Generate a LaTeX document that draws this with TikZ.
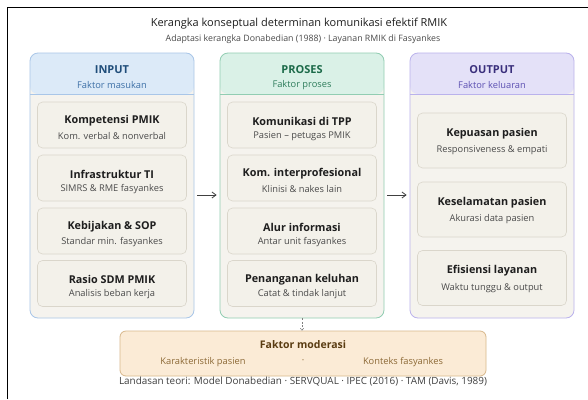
\documentclass[tikz,border=0pt]{standalone}
\usepackage{fontspec}
\setmainfont{Open Sans}
\usetikzlibrary{arrows.meta}
\definecolor{cream}{HTML}{F5F3EE}
\definecolor{innerfill}{HTML}{F3F1EA}
\definecolor{innerdraw}{HTML}{DAD6CB}
\definecolor{bluehdr}{HTML}{DCEAF8}
\definecolor{bluedraw}{HTML}{A9C6E8}
\definecolor{bluetitle}{HTML}{1F4D7A}
\definecolor{bluesub}{HTML}{3C6FA6}
\definecolor{greenhdr}{HTML}{DAF1E7}
\definecolor{greendraw}{HTML}{91CDB2}
\definecolor{greentitle}{HTML}{1C6A49}
\definecolor{greensub}{HTML}{2F7D5C}
\definecolor{purphdr}{HTML}{E4E1F8}
\definecolor{purpdraw}{HTML}{BAB2EC}
\definecolor{purptitle}{HTML}{3A2F7C}
\definecolor{purpsub}{HTML}{5C50B2}
\definecolor{modfill}{HTML}{FBEBD6}
\definecolor{moddraw}{HTML}{D8B88C}
\definecolor{modtitle}{HTML}{5A3C12}
\definecolor{modsub}{HTML}{8C6936}
\definecolor{textdark}{HTML}{1E1E1E}
\definecolor{textsub}{HTML}{4A4A4A}
\tikzset{
  colbox/.style={draw=#1draw, line width=0.8pt, fill=cream, rounded corners=8pt,
    minimum width=164pt, minimum height=265pt, inner sep=0pt,
    path picture={\fill[#1hdr] (path picture bounding box.north west) rectangle ([yshift=-41pt]path picture bounding box.north east);
      \draw[#1draw, line width=0.6pt] ([yshift=-41pt]path picture bounding box.north west) -- ([yshift=-41pt]path picture bounding box.north east);}},
  hdrtitle/.style={font=\fontsize{11}{13}\selectfont\bfseries, text=#1title, inner sep=0pt},
  hdrsub/.style={font=\fontsize{9.3}{11}\selectfont, text=#1sub, inner sep=0pt},
  itembox/.style={draw=innerdraw, line width=0.6pt, fill=innerfill, rounded corners=5pt,
    minimum width=149pt, minimum height=#1, inner sep=0pt},
  itemtitle/.style={font=\fontsize{10.8}{13}\selectfont\bfseries, text=textdark, inner sep=0pt},
  itemsub/.style={font=\fontsize{9.3}{11}\selectfont, text=textsub, inner sep=0pt},
  flow/.style={-{Straight Barb[length=4pt,width=6pt]}, line width=0.8pt, draw=black!75},
}
\begin{document}
\begin{tikzpicture}[x=1pt,y=-1pt]
\useasboundingbox (0,0) rectangle (588,399);
\fill[white] (0,0) rectangle (588,399);
\coordinate (fa) at (7.5,399);
\coordinate (fb) at (7.5,7.5);
\coordinate (fc) at (588,7.5);
\draw[line width=1.6pt, black] (fa) -- (fb) -- (fc);

\node[font=\fontsize{11}{13}\selectfont, text=textdark, inner sep=0pt] (title) at (299,24) {Kerangka konseptual determinan komunikasi efektif RMIK};
\node[font=\fontsize{8.8}{10}\selectfont, text=textsub, inner sep=0pt] (subtitle) at (303,39) {Adaptasi kerangka Donabedian (1988) · Layanan RMIK di Fasyankes};

% columns
\node[colbox=blue] (cin) at (112,185.5) {};
\node[colbox=green] (cpr) at (302,185.5) {};
\node[colbox=purp] (cout) at (492,185.5) {};

\node[hdrtitle=blue] (hin) at (112,70) {INPUT};
\node[hdrsub=blue] (hins) at (112,85) {Faktor masukan};
\node[hdrtitle=green] (hpr) at (302,70) {PROSES};
\node[hdrsub=green] (hprs) at (302,85) {Faktor proses};
\node[hdrtitle=purp] (hout) at (492,70) {OUTPUT};
\node[hdrsub=purp] (houts) at (492,85) {Faktor keluaran};

% input items
\foreach \n/\y/\t/\s in {i1/125/Kompetensi PMIK/Kom. verbal \& nonverbal,
  i2/178/Infrastruktur TI/SIMRS \& RME fasyankes,
  i3/231/Kebijakan \& SOP/Standar min. fasyankes,
  i4/283.5/Rasio SDM PMIK/Analisis beban kerja}{
  \node[itembox=46pt] (\n) at (112,\y) {};
  \node[itemtitle] (\n t) at (112,\y-4) {\t};
  \node[itemsub] (\n s) at (112,\y+11) {\s};
}
% proses items
\foreach \n/\y/\t/\s in {p1/125/Komunikasi di TPP/Pasien – petugas PMIK,
  p2/178/Kom. interprofesional/Klinisi \& nakes lain,
  p3/231/Alur informasi/Antar unit fasyankes,
  p4/283.5/Penanganan keluhan/Catat \& tindak lanjut}{
  \node[itembox=46pt] (\n) at (302,\y) {};
  \node[itemtitle] (\n t) at (302,\y-4) {\t};
  \node[itemsub] (\n s) at (302,\y+11) {\s};
}
% output items
\foreach \n/\y/\t/\s in {o1/140.5/Kepuasan pasien/Responsiveness \& empati,
  o2/209.5/Keselamatan pasien/Akurasi data pasien,
  o3/278/Efisiensi layanan/Waktu tunggu \& output}{
  \node[itembox=55pt] (\n) at (492,\y) {};
  \node[itemtitle] (\n t) at (492,\y-7) {\t};
  \node[itemsub] (\n s) at (492,\y+10) {\s};
}

% arrows
\draw[flow] ([xshift=3pt]cin.east |- 0,195) -- ([xshift=-3pt]cpr.west |- 0,195);
\draw[flow] ([xshift=3pt]cpr.east |- 0,195) -- ([xshift=-3pt]cout.west |- 0,195);

% moderasi
\node[draw=moddraw, line width=0.8pt, fill=modfill, rounded corners=6pt, minimum width=366pt, minimum height=45pt, inner sep=0pt] (mod) at (303,353.5) {};
\draw[dashed, dash pattern=on 2pt off 1.5pt, line width=0.5pt, draw=black!50, -{Straight Barb[length=2pt,width=3.5pt]}] (cpr.south) -- (mod.north -| cpr.south);
\node[font=\fontsize{10.5}{12}\selectfont\bfseries, text=modtitle, inner sep=0pt] (modt) at (303,345) {Faktor moderasi};
\node[font=\fontsize{9.3}{11}\selectfont, text=modsub, inner sep=0pt] (mod1) at (203,362) {Karakteristik pasien};
\node[font=\fontsize{9.3}{11}\selectfont, text=modsub, inner sep=0pt] (mod2) at (303,362) {·};
\node[font=\fontsize{9.3}{11}\selectfont, text=modsub, inner sep=0pt] (mod3) at (403,362) {Konteks fasyankes};

\node[font=\fontsize{9.9}{11}\selectfont, text=textdark!85, inner sep=0pt] (foot) at (303,382) {Landasan teori: Model Donabedian · SERVQUAL · IPEC (2016) · TAM (Davis, 1989)};
\end{tikzpicture}
\end{document}
